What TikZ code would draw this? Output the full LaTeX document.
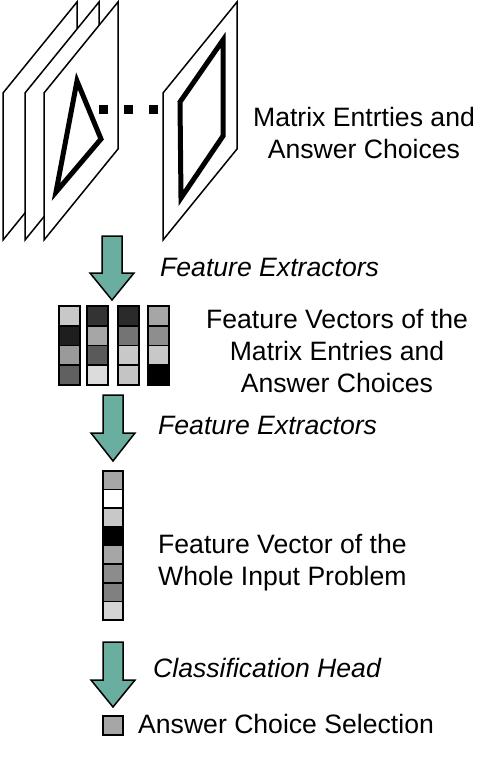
\documentclass[tikz,border=0pt]{standalone}
\usepackage{fontspec}
\setmainfont{Liberation Sans}
\definecolor{teal1}{RGB}{106,174,160}
\begin{document}
\begin{tikzpicture}[x=1pt,y=-1pt,
  plane/.style={draw=black,fill=white,line width=1.5pt,line join=miter},
  shapeline/.style={draw=black,line width=5pt,line join=miter},
  dotsq/.style={fill=black},
  cell/.style={draw=black,line width=1.6pt},
  blockarrow/.style={draw=black,fill=teal1,line width=1.5pt,line join=miter},
  lbl/.style={font=\fontsize{26.6}{32}\selectfont,inner sep=0pt},
  ilbl/.style={font=\fontsize{26.6}{32}\selectfont\itshape,inner sep=0pt}
]
\useasboundingbox (0,0) rectangle (498,779);
% planes
\foreach \x in {3,25,44,163}{
  \draw[plane] (\x,240) -- (\x,93) -- (\x+74,2) -- (\x+74,149) -- cycle;
}
% triangle
\draw[shapeline] (77,81) -- (101,139) -- (56,192) -- cycle;
% parallelogram
\draw[shapeline] (180,102) -- (223,40) -- (223,136) -- (181,198) -- cycle;
% dots
\foreach \x in {103.5,128,153}{
  \fill[dotsq] (\x-4.5,104.5) rectangle (\x+4.5,113.5);
}
\node[lbl,align=center,anchor=north] (t1) at (364,107) {Matrix Entrties and\\Answer Choices};
% arrow 1
\draw[blockarrow] (102,236) -- (122,236) -- (122,273) -- (134,273) -- (112,300) -- (90,273) -- (102,273) -- cycle;
\node[ilbl,anchor=base west] (f1) at (160,276) {Feature Extractors};
% feature vectors
\foreach \x/\a/\b/\c/\d [count=\i] in {59/200/30/154/96, 87/51/166/90/220, 118/42/116/200/196, 148/166/142/200/0}{
  \foreach \v [count=\j] in {\a,\b,\c,\d}{
    \definecolor{cc}{RGB}{\v,\v,\v}
    \draw[cell,fill=cc] (\x,306+19.75*\j-19.75) rectangle (\x+21,306+19.75*\j);
  }
}
\node[lbl,align=center,anchor=north] (t2) at (337,309) {Feature Vectors of the\\Matrix Entries and\\Answer Choices};
% arrow 2
\draw[blockarrow] (103,395) -- (123,395) -- (123,433) -- (135,433) -- (113,461) -- (91,433) -- (103,433) -- cycle;
\node[ilbl,anchor=base west] (f2) at (158,434) {Feature Extractors};
% whole vector
\foreach \v [count=\j] in {166,255,200,0,166,140,128,212}{
  \definecolor{cc}{RGB}{\v,\v,\v}
  \draw[cell,fill=cc] (103,471+18.625*\j-18.625) rectangle (123,471+18.625*\j);
}
\node[lbl,align=left,anchor=north west] (t3) at (158,534) {Feature Vector of the\\Whole Input Problem};
% arrow 3
\draw[blockarrow] (103,642) -- (123,642) -- (123,680) -- (135,680) -- (113,707) -- (91,680) -- (103,680) -- cycle;
\node[ilbl,anchor=base west] (f3) at (153,677) {Classification Head};
% answer
\definecolor{ac}{RGB}{166,166,166}
\draw[cell,fill=ac] (103,716) rectangle (123,735);
\node[lbl,anchor=base west] (t4) at (138,733) {Answer Choice Selection};
\end{tikzpicture}
\end{document}
